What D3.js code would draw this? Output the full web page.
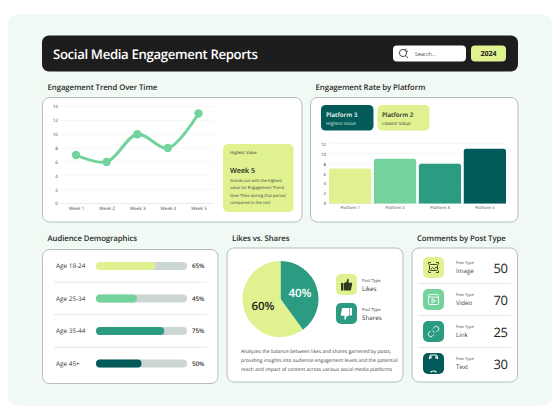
<!DOCTYPE html>
<html><head><meta charset="utf-8">
<style>html,body{margin:0;padding:0;background:#fff}svg{display:block}text{font-family:"Open Sans",sans-serif;text-rendering:geometricPrecision}</style>
<script src="https://cdn.jsdelivr.net/npm/d3@7"></script>
</head><body><svg id="c" width="560" height="420"></svg>
<script>
const weeks=["Week 1","Week 2","Week 3","Week 4","Week 5"];
const trendValues=[7,6,10,8,13];
const trendTicks=[0,2,4,6,8,10,12,14];
const platforms=["Platform 1","Platform 2","Platform 3","Platform 4"];
const platformValues=[7,9,8,11];
const platformTicks=[0,2,4,6,8,10,12];
const ageGroups=["Age 18-24","Age 25-34","Age 35-44","Age 45+"];
const ageValues=[65,45,75,50];
const pieLabels=["Shares","Likes"];
const pieValues=[40,60];
const postTypes=["Image","Video","Link","Text"];
const commentValues=[50,70,25,30];
const colors=["#e0f190","#74d29d","#2b9c82","#025a59"];
const ink="#222";

const svg=d3.select("#c");
function rect(g,x,y,w,h,r,fill,stroke,sw){return g.append("rect").attr("x",x).attr("y",y).attr("width",w).attr("height",h).attr("rx",r).attr("fill",fill).attr("stroke",stroke||"none").attr("stroke-width",sw||0);}
function text(g,x,y,s,size,weight,fill,anchor){return g.append("text").attr("x",x).attr("y",y).text(s).attr("font-size",size).attr("font-weight",weight||400).attr("fill",fill||ink).attr("text-anchor",anchor||"start");}
function card(x,y,w,h){return rect(svg,x,y,w,h,7,"#fff","#b4bdb8",1);}

rect(svg,8,14,544,392,11,"#f0f9f3");
rect(svg,42,35.5,476,36,7,"#1d1d1d");
text(svg,53,59,"Social Media Engagement Reports",13.2,600,"#fff").attr("letter-spacing",-.35);
rect(svg,393,45.5,73,16,4,"#fff");
const mag=svg.append("g").attr("fill","none").attr("stroke","#222");
mag.append("circle").attr("cx",403).attr("cy",53).attr("r",3.6).attr("stroke-width",.8);
mag.append("path").attr("d","M405.6 55.6L408 58M404.5 50L406.5 49M406 51.5L408 51").attr("stroke-width",.8);
text(svg,415,55.5,"Search...",5.3,400,"#444");
rect(svg,471,45.5,35,16,4,"#e0f190");
text(svg,488.5,55.8,"2024",7,700,"#222","middle");

const titles=[[47.5,90,"Engagement Trend Over Time"],[315.5,90,"Engagement Rate by Platform"],[47.5,240.5,"Audience Demographics"],[232,240.5,"Likes vs. Shares"],[417,240.5,"Comments by Post Type"]];
titles.forEach(t=>text(svg,t[0],t[1],t[2],7.8,600,"#2a2a2a").attr("letter-spacing",-.08));

card(42.5,97.5,259.5,124.5);
card(310.5,97.5,207.5,124.5);
card(42.5,249.5,175.5,134);
card(227,248,176,134);
card(412,248,105.5,134);

function styleAxis(g,size){
  g.select(".domain").remove();
  g.selectAll(".tick line").remove();
  g.selectAll("text").attr("font-size",size).attr("fill","#444").attr("font-family",'"Open Sans",sans-serif');
}
function grid(y,ticks,x0,x1){
  svg.append("g").selectAll("line").data(ticks).join("line").attr("x1",x0).attr("x2",x1)
    .attr("y1",d=>y(d)).attr("y2",d=>y(d)).attr("stroke",d=>d===0?"#dfe3e0":"#f1f3f1").attr("stroke-width",.7);
}

/* line chart */
const ly=d3.scaleLinear().domain([0,14]).range([203.5,106.5]);
const lx=d3.scalePoint().domain(weeks).range([76,198.5]);
grid(ly,trendTicks,60,214);
svg.append("g").attr("transform","translate(58,0)").call(d3.axisLeft(ly).tickValues(trendTicks).tickSize(0).tickPadding(0)).call(styleAxis,4.6);
svg.append("g").attr("transform","translate(0,205.5)").call(d3.axisBottom(lx).tickSize(0).tickPadding(1)).call(styleAxis,4.6);
const lineGen=d3.line().x((d,i)=>lx(weeks[i])).y(d=>ly(d)).curve(d3.curveCatmullRom.alpha(.5));
svg.append("path").datum(trendValues).attr("d",lineGen).attr("fill","none").attr("stroke",colors[1]).attr("stroke-width",3).attr("stroke-linecap","round");
svg.append("g").selectAll("circle").data(trendValues).join("circle").attr("cx",(d,i)=>lx(weeks[i])).attr("cy",d=>ly(d)).attr("r",4.2).attr("fill",colors[1]);

rect(svg,223,144,70.5,68,5,colors[0]);
text(svg,230,153.5,"Highest Value",4.2,500,"#333");
text(svg,230,173,"Week 5",7.2,600,"#222");
["Stands out with the highest","value for Engagement Trend","Over Time during that period","compared to the rest"].forEach((s,i)=>text(svg,230,182+i*7.4,s,4.1,400,"#444"));

/* bar chart */
rect(svg,321,105,52.5,25.5,4.5,colors[3]);
text(svg,326,117,"Platform 3",6.2,600,"#fff");
text(svg,326,124.5,"Highest Value",4.7,400,"#cfe6df");
rect(svg,377.5,105,52,25.5,4.5,colors[0]);
text(svg,382,117,"Platform 2",6.2,600,"#222");
text(svg,382,124.5,"Lowest Value",4.7,400,"#444");
const by=d3.scaleLinear().domain([0,12]).range([203.5,143.7]);
const bx=d3.scaleBand().domain(platforms).range([329,506]).paddingInner(.06).paddingOuter(0);
grid(by,platformTicks,329,506);
svg.append("g").attr("transform","translate(326,0)").call(d3.axisLeft(by).tickValues(platformTicks).tickSize(0).tickPadding(0)).call(styleAxis,4.4);
svg.append("g").attr("transform","translate(0,205.5)").call(d3.axisBottom(bx).tickSize(0).tickPadding(1)).call(styleAxis,4);
svg.append("g").selectAll("path").data(platformValues).join("path").attr("fill",(d,i)=>colors[i]).attr("d",(d,i)=>{
  const x=bx(platforms[i]),w=bx.bandwidth(),t=by(d),b=by(0),r=2.5;
  return `M${x} ${b}V${t+r}Q${x} ${t} ${x+r} ${t}H${x+w-r}Q${x+w} ${t} ${x+w} ${t+r}V${b}Z`;
});

/* demographics */
const ageY=d3.scalePoint().domain(ageGroups).range([266,363.5]);
const ageX=d3.scaleLinear().domain([0,100]).range([0,91]);
ageGroups.forEach((a,i)=>{
  const y=ageY(a);
  text(svg,56,y+2.4,a,6.4,400,"#333");
  rect(svg,96,y-4,ageX(100),8,4,"#ccd7d4");
  rect(svg,96,y-4,ageX(ageValues[i]),8,4,colors[i]);
  text(svg,192,y+2.2,ageValues[i]+"%",6.2,600,"#333");
  if(i<3) svg.append("line").attr("x1",54).attr("x2",207).attr("y1",y+16.2).attr("y2",y+16.2).attr("stroke","#e5e7e6").attr("stroke-width",1);
});

/* pie */
const pie=d3.pie().sort(null)(pieValues);
const arc=d3.arc().innerRadius(0).outerRadius(38);
const pg=svg.append("g").attr("transform","translate(280.5,299)");
const pieColors=[colors[2],colors[0]];
pg.selectAll("path").data(pie).join("path").attr("d",arc).attr("fill",(d,i)=>pieColors[i]);
text(pg,19.5,-2.3,"40%",11.5,600,"#fff","middle");
text(pg,-17.5,11,"60%",11.5,600,"#222","middle");
function thumb(cx,cy,up,fill){
  const g=svg.append("g").attr("transform",`translate(${cx},${cy})`+(up?"":" rotate(180)")).attr("fill",fill);
  g.append("rect").attr("x",-5.5).attr("y",-2).attr("width",2.4).attr("height",7.5);
  g.append("path").attr("d","M-2.5 -2L0 -3L1 -6.5Q2.2 -6.5 2.2 -4.6L2 -2.2H5.5Q6 -2 5.6 -1L4.4 5.5H-2.5Z");
}
rect(svg,336,274,21,21,5,colors[0]); thumb(346.5,285,true,"#2f3a22");
rect(svg,336,303,21,21,5,colors[2]); thumb(346.5,313.5,false,"#fff");
text(svg,362,281.5,"Post Type",4.1,400,"#444");
text(svg,362,290.5,"Likes",6.2,400,"#333");
text(svg,362,310.5,"Post Type",4.1,400,"#444");
text(svg,362,319.5,"Shares",6.2,400,"#333");
["Analyzes the balance between likes and shares garnered by posts,","providing insights into audience engagement levels and the potential","reach and impact of content across various social media platforms"].forEach((s,i)=>text(svg,241,352.5+i*9,s,4.9,400,"#444"));

/* comments */
const cY=d3.scalePoint().domain(postTypes).range([267.5,363.5]);
postTypes.forEach((p,i)=>{
  const y=cY(p);
  rect(svg,423,y-10.5,21,21,5,colors[i]);
  text(svg,456,y-3.2,"Post Type",3.9,400,"#444");
  text(svg,456,y+5,p,6.2,400,"#444");
  text(svg,493.5,y+5.2,commentValues[i],13,400,"#222").attr("letter-spacing",-.5);
  if(i<3) svg.append("line").attr("x1",418).attr("x2",511).attr("y1",y+16).attr("y2",y+16).attr("stroke","#e0e3e1").attr("stroke-width",.8);
});
function ic(y,col){return svg.append("g").attr("transform",`translate(433.5,${y})`).attr("fill","none").attr("stroke",col).attr("stroke-width",.9);}
const i0=ic(cY("Image"),"#2f3a22");
i0.append("path").attr("d","M-5 -3V-5H-2.5M2.5 -5H5V-3M5 3V5H2.5M-2.5 5H-5V3");
i0.append("rect").attr("x",-4).attr("y",-3).attr("width",8).attr("height",6).attr("rx",1);
i0.append("path").attr("d","M-3 2L-1 0L1 2M1 1L2.5 -.5L4 1");
const i1=ic(cY("Video"),"#fff");
i1.append("rect").attr("x",-5).attr("y",-5).attr("width",10).attr("height",10).attr("rx",1);
i1.append("path").attr("d","M-5 -2.4H5M-1.5 -.6L2 1.3L-1.5 3.2Z");
const i2=ic(cY("Link"),"#fff");
i2.append("path").attr("d","M-1 -1L1 1M-.5 -3L1.5 -5Q3 -6 4.5 -4.5Q6 -3 5 -1.5L3 .5M.5 3L-1.5 5Q-3 6 -4.5 4.5Q-6 3 -5 1.5L-3 -.5");
const i3=ic(cY("Text"),"#fff");
i3.attr("stroke-width",1.2);
i3.append("path").attr("d","M-4 -4.5Q-4 -8.5 -2 -8.5H2Q4 -8.5 4 -4.5M-2 -7L-3 -5M2 -7L3 -5");
i3.append("path").attr("d","M-2.5 9Q-2.5 7.5 0 7.5Q2.5 7.5 2.5 9");
</script></body></html>
